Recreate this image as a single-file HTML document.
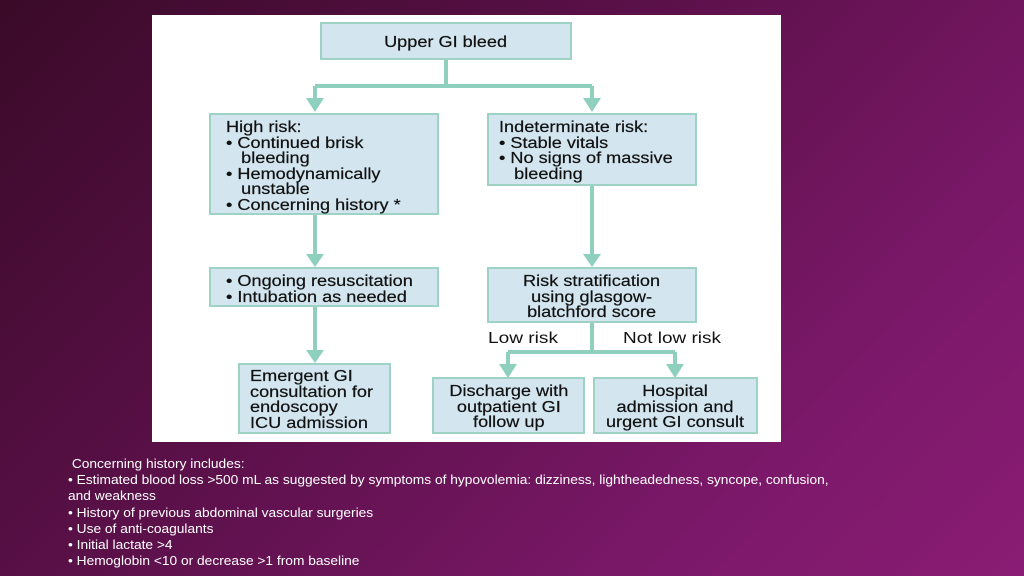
<!DOCTYPE html>
<html><head><style>
body{margin:0;width:1024px;height:576px;overflow:hidden;background:linear-gradient(135deg,#3a0a28 0%,#5a1048 40%,#7a1868 75%,#8a1c74 100%);font-family:"Liberation Sans",Arial,sans-serif;position:relative}
.panel{position:absolute;left:152px;top:15px;width:629px;height:427px;background:#fff}
.b{position:absolute;background:#d3e5ef;border:2px solid #9dd2c4;box-sizing:border-box;font-size:15.5px;color:#111;line-height:15.5px;white-space:nowrap;-webkit-text-stroke:0.2px #111}
.c{text-align:center}
.s{display:inline-block;transform:scaleX(1.17);transform-origin:left top}
.c .s{transform-origin:center top}
.note{position:absolute;left:68px;top:456px;color:#fff;font-size:12.5px;line-height:16.2px;transform:scaleX(1.1);transform-origin:left top;white-space:nowrap}
</style></head><body>
<div class="panel"></div>
<svg width="1024" height="576" style="position:absolute;left:0;top:0">
<g stroke="#8fcfbd" stroke-width="4" fill="none">
<path d="M446 60V86M315 86H592M315 86V100M592 86V100"/>
<path d="M315 215V256M315 307V352M592 186V256M592 323V352M508 352H675M508 352V366M675 352V366"/>
</g>
<g fill="#8fcfbd">
<path d="M306 98L324 98L315 112Z"/><path d="M583 98L601 98L592 112Z"/>
<path d="M306 254L324 254L315 267Z"/><path d="M583 254L601 254L592 267Z"/>
<path d="M306 350L324 350L315 363Z"/>
<path d="M499 364L517 364L508 378Z"/><path d="M666 364L684 364L675 378Z"/>
</g>
<text x="488" y="343" font-family="Liberation Sans,Arial,sans-serif" font-size="15.5" fill="#111" textLength="70" lengthAdjust="spacingAndGlyphs">Low risk</text>
<text x="623" y="343" font-family="Liberation Sans,Arial,sans-serif" font-size="15.5" fill="#111" textLength="98" lengthAdjust="spacingAndGlyphs">Not low risk</text>
</svg>
<div class="b c" style="left:320px;top:22px;width:252px;height:38px;padding-top:11px"><span class="s">Upper GI bleed</span></div>
<div class="b" style="left:209px;top:113px;width:230px;height:102px;padding:5px 0 0 15px"><span class="s">High risk:<br>• Continued brisk<br>&nbsp;&nbsp;&nbsp;bleeding<br>• Hemodynamically<br>&nbsp;&nbsp;&nbsp;unstable<br>• Concerning history *</span></div>
<div class="b" style="left:487px;top:113px;width:210px;height:73px;padding:5px 0 0 10px"><span class="s">Indeterminate risk:<br>• Stable vitals<br>• No signs of massive<br>&nbsp;&nbsp;&nbsp;bleeding</span></div>
<div class="b" style="left:209px;top:267px;width:230px;height:40px;padding:5px 0 0 15px"><span class="s">• Ongoing resuscitation<br>• Intubation as needed</span></div>
<div class="b c" style="left:487px;top:267px;width:210px;height:56px;padding-top:5px"><span class="s">Risk stratification<br>using glasgow-<br>blatchford score</span></div>
<div class="b" style="left:238px;top:363px;width:153px;height:71px;padding:4px 0 0 10px"><span class="s">Emergent GI<br>consultation for<br>endoscopy<br>ICU admission</span></div>
<div class="b c" style="left:432px;top:377px;width:153px;height:57px;padding-top:5px"><span class="s">Discharge with<br>outpatient GI<br>follow up</span></div>
<div class="b c" style="left:593px;top:377px;width:165px;height:57px;padding-top:5px"><span class="s">Hospital<br>admission and<br>urgent GI consult</span></div>
<div class="note">&nbsp;Concerning history includes:<br>• Estimated blood loss &gt;500 mL as suggested by symptoms of hypovolemia: dizziness, lightheadedness, syncope, confusion,<br>and weakness<br>• History of previous abdominal vascular surgeries<br>• Use of anti-coagulants<br>• Initial lactate &gt;4<br>• Hemoglobin &lt;10 or decrease &gt;1 from baseline</div>
</body></html>
